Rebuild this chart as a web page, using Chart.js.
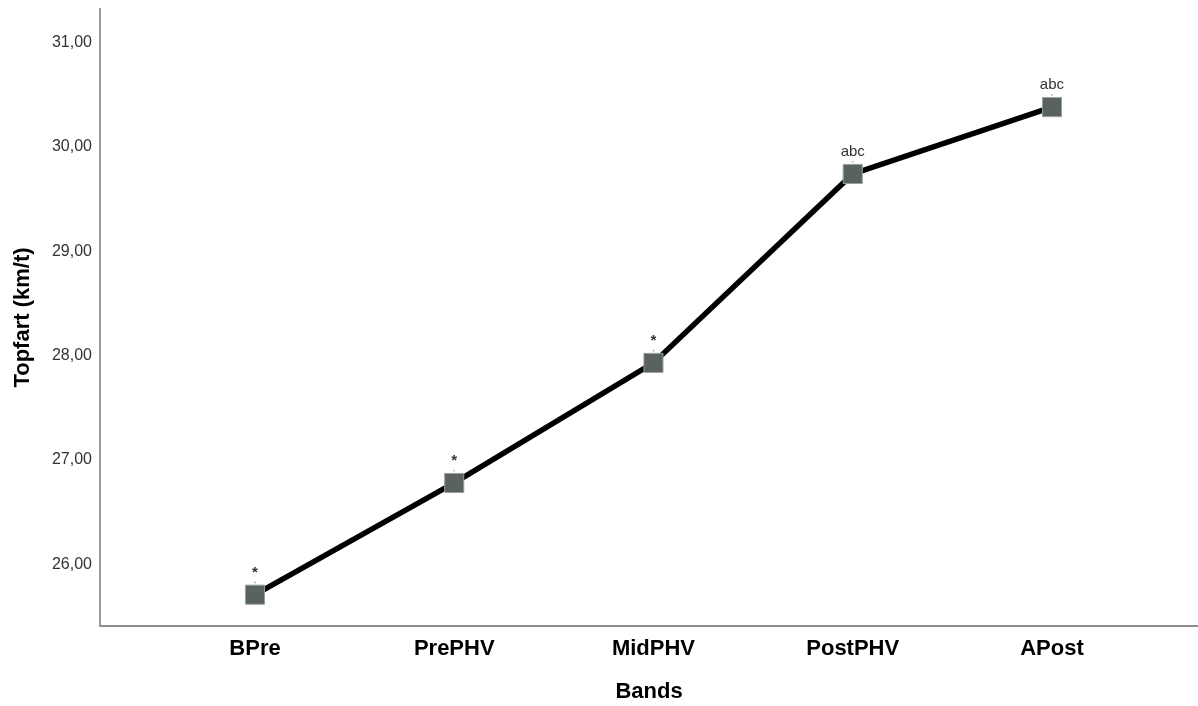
<!DOCTYPE html>
<html>
<head>
<meta charset="utf-8">
<script src="https://cdn.jsdelivr.net/npm/chart.js@4"></script>
<style>
  body { margin: 0; background: #fff; }
  #wrap { width: 1198px; height: 706px; position: relative; }
</style>
</head>
<body>
<div id="wrap"><canvas id="chart"></canvas></div>
<script>
const bands = ["BPre", "PrePHV", "MidPHV", "PostPHV", "APost"];
const topSpeed = [25.71, 26.78, 27.93, 29.74, 30.38];
const marks = ["*", "*", "*", "abc", "abc"];
const yTicks = [26, 27, 28, 29, 30, 31];

// small labels over each marker (significance letters)
const markLabels = {
  id: "markLabels",
  afterDatasetsDraw(chart) {
    const ctx = chart.ctx;
    const meta = chart.getDatasetMeta(0);
    ctx.save();
    ctx.textAlign = "center";
    ctx.textBaseline = "alphabetic";
    meta.data.forEach((pt, i) => {
      ctx.fillStyle = "#333";
      ctx.font = (marks[i] === "*" ? "bold " : "") + "15px 'Liberation Sans', Arial, sans-serif";
      ctx.fillText(marks[i], pt.x, pt.y - 18);
      // tiny error bar remnant
      ctx.fillStyle = "#aaa";
      ctx.fillRect(pt.x - 0.75, pt.y - 13, 1.5, 1.5);
    });
    ctx.restore();
  }
};

const ctx = document.getElementById("chart");
new Chart(ctx, {
  type: "line",
  data: {
    datasets: [
      {
        data: topSpeed.map((v, i) => ({ x: i, y: v })),
        borderColor: "#000",
        borderWidth: 5.5,
        tension: 0,
        fill: false,
        pointStyle: "rect",
        pointRadius: 13.5,
        pointBackgroundColor: "#59625e",
        pointBorderColor: "#9aa09d",
        pointBorderWidth: 1,
      },
    ],
  },
  options: {
    responsive: true,
    maintainAspectRatio: false,
    animation: false,
    layout: {
      autoPadding: false,
      padding: { top: 9, right: 0, bottom: 0, left: 0 },
    },
    scales: {
      x: {
        type: "linear",
        min: -0.778,
        max: 4.733,
        grid: { display: false, drawTicks: false },
        border: { color: "#8c8c8c", width: 2 },
        afterBuildTicks: (scale) => {
          scale.ticks = bands.map((b, i) => ({ value: i }));
        },
        afterFit: (scale) => {
          scale.height = 80;
          scale.paddingLeft = 0;
          scale.paddingRight = 0;
        },
        ticks: {
          padding: 10,
          color: "#000",
          font: { family: "'Liberation Sans', Arial, sans-serif", size: 22, weight: "bold" },
          callback: (v) => bands[v],
        },
        title: {
          display: true,
          text: "Bands",
          color: "#000",
          font: { family: "'Liberation Sans', Arial, sans-serif", size: 22, weight: "bold" },
          padding: { top: 0, bottom: 1 },
        },
      },
      y: {
        min: 25.41,
        max: 31.32,
        grid: { display: false, drawTicks: false },
        border: { color: "#999", width: 2 },
        afterBuildTicks: (scale) => {
          scale.ticks = yTicks.map((v) => ({ value: v }));
        },
        afterFit: (scale) => {
          scale.width = 100;
          scale.paddingTop = 0;
          scale.paddingBottom = 0;
        },
        ticks: {
          padding: 8,
          color: "#333",
          font: { family: "'Liberation Sans', Arial, sans-serif", size: 16 },
          callback: (v) => v.toFixed(2).replace(".", ","),
        },
        title: {
          display: true,
          text: "Topfart (km/t)",
          color: "#000",
          font: { family: "'Liberation Sans', Arial, sans-serif", size: 22, weight: "bold" },
          padding: { top: 10, bottom: 0 },
        },
      },
    },
    plugins: {
      legend: { display: false },
      tooltip: { enabled: false },
    },
  },
  plugins: [markLabels],
});
</script>
</body>
</html>
